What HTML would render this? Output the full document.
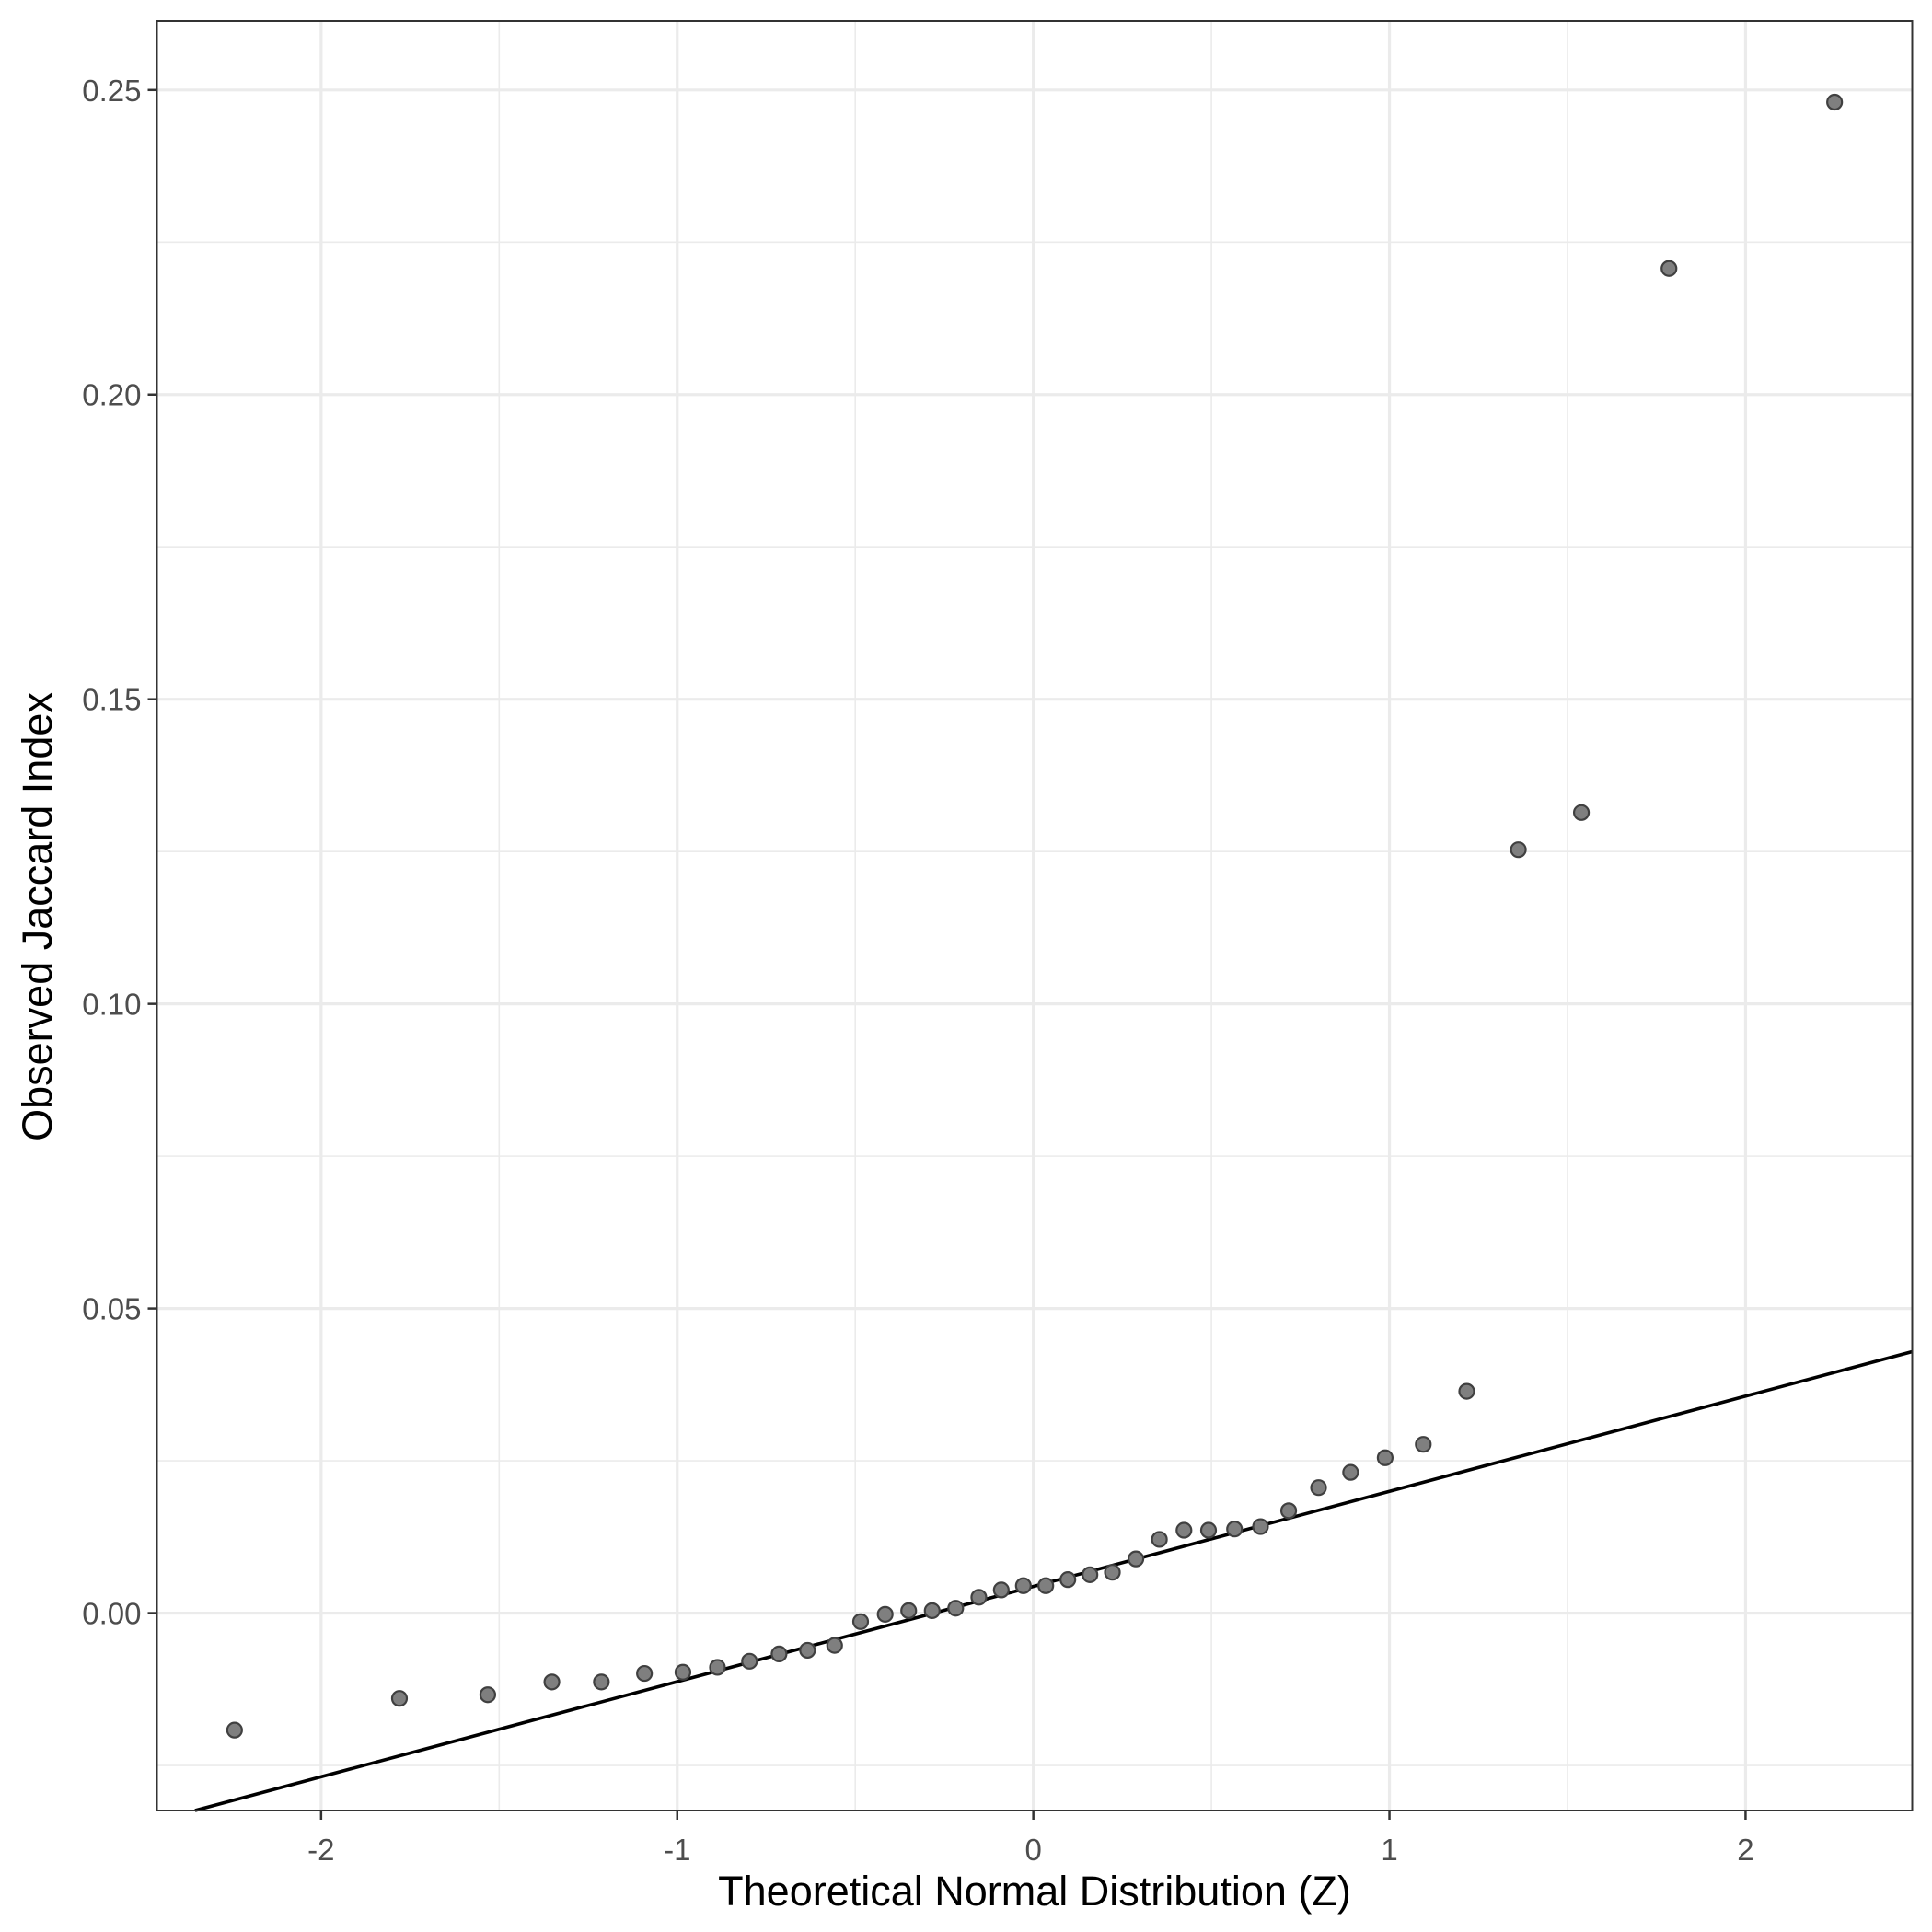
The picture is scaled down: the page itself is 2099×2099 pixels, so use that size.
<!DOCTYPE html>
<html><head><meta charset="utf-8"><style>
html,body{margin:0;padding:0;background:#fff;}
svg{display:block;font-family:"Liberation Sans",Arial,sans-serif;}
</style></head><body>
<svg id="chart" width="2099" height="2099" viewBox="0 0 2099 2099" xmlns="http://www.w3.org/2000/svg">
<rect x="0" y="0" width="2099" height="2099" fill="#fff"/>
<g id="grid"></g>
<g id="refline"></g>
<g id="points"></g>
<rect x="170.5" y="23" width="1907" height="1944" fill="none" stroke="#333" stroke-width="2"/>
<g id="axes"></g>
<text x="1124" y="2070" font-size="45" text-anchor="middle" fill="#000">Theoretical Normal Distribution (Z)</text>
<text transform="translate(56,996) rotate(-90)" font-size="45" text-anchor="middle" fill="#000">Observed Jaccard Index</text>
</svg>
<script>
const zValues = [-2.243,-1.78,-1.532,-1.352,-1.213,-1.092,-0.984,-0.887,-0.797,-0.714,-0.634,-0.558,-0.485,-0.416,-0.350,-0.284,-0.218,-0.153,-0.090,-0.028,0.035,0.097,0.159,0.222,0.288,0.354,0.423,0.492,0.565,0.638,0.717,0.801,0.891,0.988,1.095,1.217,1.362,1.539,1.785,2.250];
const jaccardValues = [-0.0192,-0.0140,-0.0134,-0.0113,-0.0113,-0.0099,-0.0097,-0.0089,-0.0079,-0.0067,-0.0061,-0.0053,-0.0014,-0.0002,0.0004,0.0004,0.0008,0.0026,0.0038,0.0045,0.0045,0.0055,0.0063,0.0067,0.0089,0.0121,0.0136,0.0136,0.0138,0.0142,0.0168,0.0206,0.0231,0.0255,0.0277,0.0364,0.1253,0.1314,0.2207,0.2480];
const xTicks = [-2,-1,0,1,2];
const xTickLabels = ["-2","-1","0","1","2"];
const yTicks = [0,0.05,0.10,0.15,0.20,0.25];
const yTickLabels = ["0.00","0.05","0.10","0.15","0.20","0.25"];
const lineIntercept = 0.00437;
const lineSlope = 0.01562;

const NS="http://www.w3.org/2000/svg";
const L=170.5,R=2077.5,T=23,B=1967;
const xMin=-2.461,xMax=2.468,yMin=-0.0324,yMax=0.2613;
function sx(v){return L+(v-xMin)/(xMax-xMin)*(R-L);}
function sy(v){return B-(v-yMin)/(yMax-yMin)*(B-T);}
function mk(tag,attrs,parent){const e=document.createElementNS(NS,tag);for(const k in attrs)e.setAttribute(k,attrs[k]);parent.appendChild(e);return e;}
const grid=document.getElementById('grid'),axes=document.getElementById('axes');
for(let i=0;i<xTicks.length-1;i++){const m=(xTicks[i]+xTicks[i+1])/2;const e=mk('line',{x1:sx(m),x2:sx(m),y1:T,y2:B,stroke:'#ebebeb','stroke-width':1.6},grid);

}
for(let i=0;i<yTicks.length-1;i++){const m=(yTicks[i]+yTicks[i+1])/2;const e=mk('line',{x1:L,x2:R,y1:sy(m),y2:sy(m),stroke:'#ebebeb','stroke-width':1.6},grid);

}
{const m=yTicks[0]-0.025;const e=mk('line',{x1:L,x2:R,y1:sy(m),y2:sy(m),stroke:'#ebebeb','stroke-width':1.6},grid);

}
xTicks.forEach((v,i)=>{const x=sx(v);
const g=mk('line',{x1:x,x2:x,y1:T,y2:B,stroke:'#ebebeb','stroke-width':3.2},grid);


const t=mk('line',{x1:x,x2:x,y1:B,y2:B+10,stroke:'#333','stroke-width':2.5},axes);


const tx=mk('text',{x:x,y:B+54,'font-size':33,'text-anchor':'middle',fill:'#4d4d4d'},axes);tx.textContent=xTickLabels[i];

});
yTicks.forEach((v,i)=>{const y=sy(v);
const g=mk('line',{x1:L,x2:R,y1:y,y2:y,stroke:'#ebebeb','stroke-width':3.2},grid);


const t=mk('line',{x1:L-10,x2:L,y1:y,y2:y,stroke:'#333','stroke-width':2.5},axes);


const tx=mk('text',{x:L-17,y:y+12,'font-size':33,'text-anchor':'end',fill:'#4d4d4d'},axes);tx.textContent=yTickLabels[i];

});
{let z1=xMin,z2=xMax;const zb=(yMin-lineIntercept)/lineSlope;if(zb>z1)z1=zb;const zt=(yMax-lineIntercept)/lineSlope;if(zt<z2)z2=zt;
const ln=mk('line',{x1:sx(z1),y1:sy(lineIntercept+lineSlope*z1),x2:sx(z2),y2:sy(lineIntercept+lineSlope*z2),stroke:'#000','stroke-width':3.6},document.getElementById('refline'));

}
const pts=document.getElementById('points');
zValues.forEach((z,i)=>{const c=mk('circle',{cx:sx(z),cy:sy(jaccardValues[i]),r:8,fill:'#7f7f7f',stroke:'#404040','stroke-width':2.2},pts);

});
</script>
</body></html>
